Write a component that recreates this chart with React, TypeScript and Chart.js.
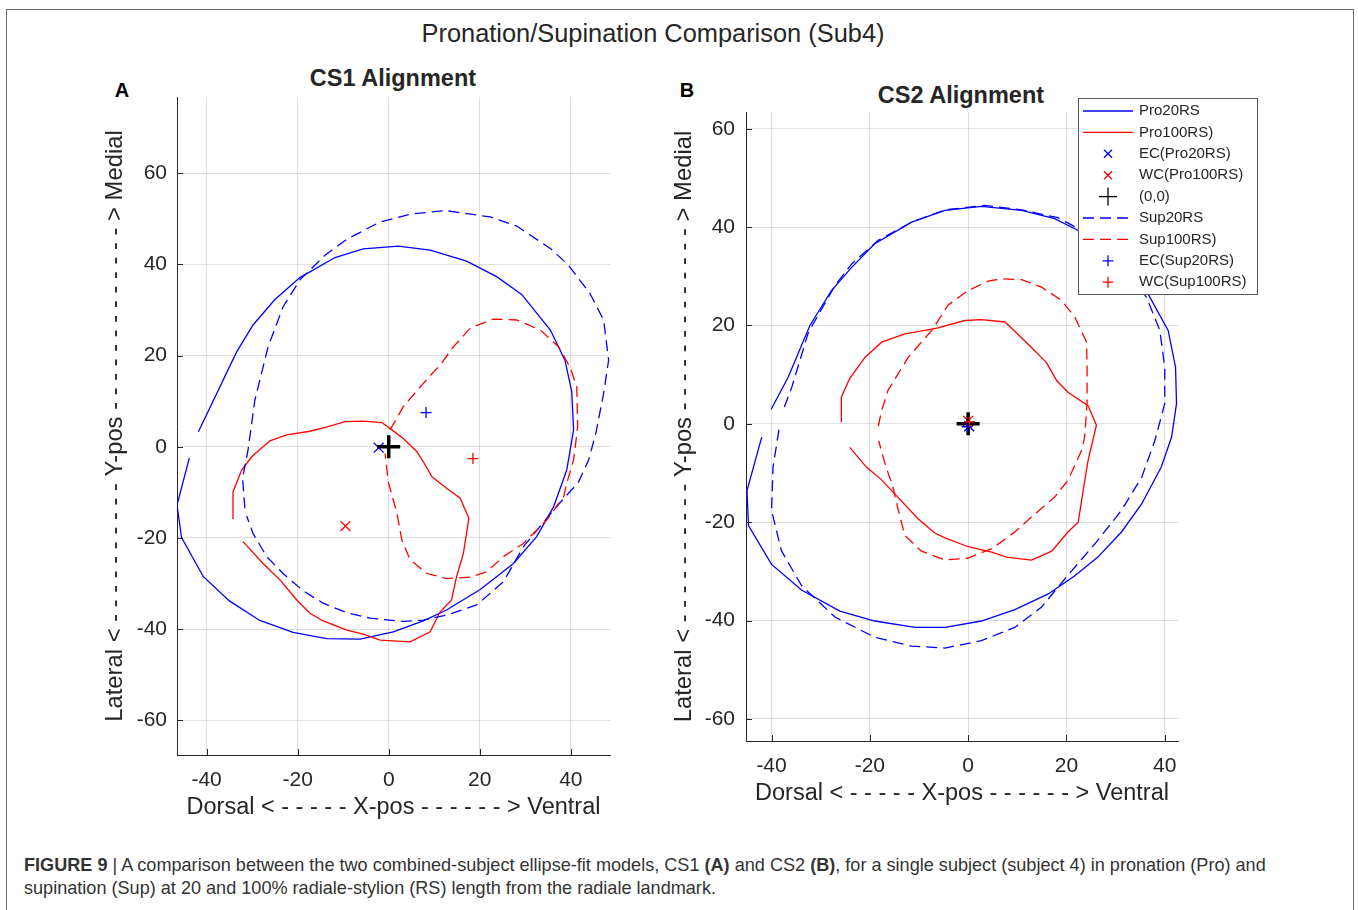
import React, { useEffect, useRef } from "react";
import { Chart, registerables } from "chart.js";

Chart.register(...registerables);

const FONT = '"Liberation Sans", Arial, Helvetica, sans-serif';
const INK = "#262626";
const GRID = "rgba(38,38,38,0.15)";
const BLUE = "rgb(0,0,255)";
const RED = "rgb(255,0,0)";

type Pt = [number, number];

// ---------- tick labels ----------
const xTickValues = [-40, -20, 0, 20, 40];
const yTickValues = [-60, -40, -20, 0, 20, 40, 60];

// ---------- series names (legend order) ----------
const seriesLabels = [
  "Pro20RS",
  "Pro100RS)",
  "EC(Pro20RS)",
  "WC(Pro100RS)",
  "(0,0)",
  "Sup20RS",
  "Sup100RS)",
  "EC(Sup20RS)",
  "WC(Sup100RS)",
];

const origin: Pt = [0, 0];

// ---------- panel A: CS1 alignment ----------
const cs1Pro20RS: Pt[] = [
  [-43.8, -2.5], [-46.5, -12.8], [-45.5, -19.9], [-40.7, -28.5], [-35.0, -33.8],
  [-28.3, -38.1], [-21.0, -40.7], [-13.6, -42.1], [-6.3, -42.2], [1.0, -40.6],
  [7.6, -38.2], [12.7, -35.8], [20.1, -31.3], [27.4, -25.6], [32.5, -19.7],
  [36.2, -13.2], [39.1, -5.1], [40.6, 3.7], [40.2, 12.1], [38.7, 19.0],
  [35.5, 25.6], [29.2, 33.4], [23.7, 37.3], [17.1, 40.7], [9.1, 43.1],
  [2.1, 44.0], [-5.6, 43.4], [-11.8, 41.5], [-19.5, 37.1], [-25.0, 32.3],
  [-29.8, 26.7], [-33.4, 20.8], [-41.8, 3.3],
];
const cs1Pro100RS: Pt[] = [
  [-34.0, -15.7], [-34.2, -9.9], [-32.3, -5.1], [-30.1, -2.2], [-26.1, 1.3],
  [-22.4, 2.6], [-17.3, 3.4], [-13.3, 4.4], [-9.6, 5.5], [-5.6, 5.6],
  [-1.5, 5.3], [0.7, 3.7], [3.2, 1.8], [6.2, -1.1], [7.6, -3.3],
  [9.5, -6.6], [12.7, -9.1], [15.7, -11.3], [17.6, -15.7], [16.4, -23.4],
  [14.9, -28.5], [13.8, -33.6], [11.3, -36.2], [9.1, -40.6], [4.7, -42.8],
  [-1.9, -42.4], [-5.6, -41.1], [-9.2, -40.2], [-14.4, -38.2], [-17.3, -36.5],
  [-20.2, -33.6], [-23.9, -29.2], [-27.6, -25.6], [-32.0, -20.8],
];
const cs1Sup20RS: Pt[] = [
  [-31.6, -13.5], [-32.1, -6.9], [-30.9, -0.7], [-29.4, 10.2], [-26.5, 21.9],
  [-23.2, 30.7], [-19.5, 36.6], [-14.0, 42.0], [-9.2, 45.5], [-1.9, 49.3],
  [4.7, 51.0], [12.4, 51.8], [22.3, 50.4], [28.1, 48.4], [35.5, 43.5],
  [39.5, 39.8], [44.2, 33.6], [47.2, 27.8], [48.3, 19.0], [47.2, 11.7],
  [45.5, 3.0], [43.9, -2.9], [41.7, -7.7], [36.2, -13.9], [29.6, -21.9],
  [25.2, -29.6], [19.3, -34.7], [12.7, -36.9], [7.6, -38.0], [3.2, -38.3],
  [-4.1, -37.6], [-9.2, -36.4], [-14.4, -34.3], [-18.8, -31.6], [-23.2, -27.8],
  [-26.8, -24.1], [-29.8, -19.0], [-31.2, -15.2],
];
const cs1Sup100RS: Pt[] = [
  [0.3, 3.7], [3.2, 8.8], [7.6, 13.9], [11.6, 18.3], [14.2, 21.9],
  [17.9, 26.0], [23.0, 28.0], [28.1, 27.8], [33.3, 25.6], [37.3, 21.9],
  [39.8, 17.5], [41.3, 13.2], [41.5, 4.4], [40.6, -2.9], [39.1, -8.0],
  [38.4, -11.0], [34.7, -16.1], [29.6, -21.2], [25.2, -24.1], [21.5, -27.4],
  [17.9, -28.6], [12.7, -28.9], [8.4, -27.8], [4.7, -24.8], [2.9, -20.5],
  [1.8, -14.6], [-0.1, -7.7], [-0.8, -1.5],
];
const cs1EcPro20RS: Pt = [-2.2, -0.2];
const cs1WcPro100RS: Pt = [-9.5, -17.4];
const cs1EcSup20RS: Pt = [8.2, 7.5];
const cs1WcSup100RS: Pt = [18.5, -2.6];

// ---------- panel B: CS2 alignment ----------
const cs2Pro20RS: Pt[] = [
  [-40.1, 2.9], [-36.6, 9.5], [-32.2, 20.0], [-27.8, 27.1], [-23.7, 31.8],
  [-19.0, 36.6], [-11.5, 41.0], [-4.7, 43.4], [2.7, 44.2], [10.9, 43.4],
  [17.6, 41.7], [22.4, 39.3], [27.5, 36.0], [32.5, 31.5], [36.6, 26.4],
  [40.7, 19.0], [42.2, 11.5], [42.4, 4.1], [41.4, -2.7], [39.3, -8.8],
  [35.3, -16.3], [31.2, -22.0], [26.4, -27.1], [21.7, -30.9], [16.3, -34.6],
  [9.5, -37.8], [2.7, -40.1], [-4.7, -41.4], [-10.8, -41.4], [-19.0, -40.1],
  [-26.1, -38.1], [-33.9, -33.8], [-40.0, -28.6], [-44.7, -20.7], [-45.0, -13.6],
  [-42.0, -2.7],
];
const cs2Pro100RS: Pt[] = [
  [-25.8, 0.3], [-25.8, 5.4], [-24.1, 9.2], [-21.0, 13.5], [-17.6, 16.6],
  [-12.9, 18.3], [-8.8, 19.0], [-6.1, 19.5], [-0.7, 21.0], [2.7, 21.2],
  [7.5, 20.7], [11.5, 16.9], [15.9, 12.5], [18.0, 8.8], [20.3, 6.4],
  [24.4, 3.7], [26.1, -0.3], [24.4, -7.5], [23.4, -13.6], [22.4, -20.0],
  [20.3, -22.0], [17.0, -25.9], [12.9, -27.7], [7.8, -27.1], [4.8, -26.1],
  [0.0, -25.0], [-4.7, -23.2], [-6.8, -22.2], [-10.2, -19.3], [-14.6, -14.6],
  [-17.6, -11.4], [-20.7, -8.8], [-24.1, -4.8],
];
const cs2Sup20RS: Pt[] = [
  [-37.4, 3.4], [-35.9, 7.4], [-32.5, 18.6], [-27.1, 28.1], [-23.7, 32.5],
  [-18.3, 37.3], [-11.5, 41.0], [-4.7, 43.5], [3.4, 44.4], [10.9, 43.5],
  [18.3, 41.9], [22.4, 39.7], [27.5, 36.0], [32.5, 31.0], [36.3, 25.7],
  [39.0, 19.0], [40.0, 11.5], [40.0, 4.1], [38.0, -3.4], [35.3, -10.9],
  [31.2, -17.6], [25.8, -24.4], [19.7, -31.5], [14.9, -37.3], [9.5, -41.4],
  [2.7, -44.1], [-4.7, -45.6], [-11.5, -45.2], [-19.0, -43.4], [-27.1, -39.3],
  [-33.9, -32.9], [-38.0, -25.8], [-40.0, -17.6], [-39.7, -8.8], [-38.3, 0.0],
];
const cs2Sup100RS: Pt[] = [
  [-18.3, -0.5], [-17.6, 2.7], [-16.3, 6.8], [-12.2, 13.5], [-7.4, 19.0],
  [-4.1, 24.1], [0.0, 27.1], [4.1, 29.0], [6.8, 29.5], [10.9, 29.3],
  [14.9, 27.8], [19.0, 25.1], [21.7, 21.7], [24.1, 16.6], [24.2, 11.5],
  [24.2, 4.1], [23.7, -2.7], [23.1, -5.4], [20.3, -11.5], [17.6, -14.9],
  [12.5, -19.3], [9.5, -22.0], [4.8, -25.4], [0.0, -27.3], [-4.7, -27.7],
  [-9.5, -25.9], [-12.9, -22.7], [-14.2, -17.6], [-15.3, -12.9], [-16.9, -8.1],
  [-18.2, -3.5],
];
const cs2EcPro20RS: Pt = [0.2, -0.5];
const cs2WcPro100RS: Pt = [0.0, 0.6];
const cs2EcSup20RS: Pt = [-0.2, -0.6];
const cs2WcSup100RS: Pt = [0.3, 0.4];

const xAxisTitle = "Dorsal < - - - - - X-pos - - - - - - > Ventral";
const yAxisTitle =
  "Lateral < - - - - - - - - - - Y-pos - - - - - - - - - - - - - > Medial";

type PanelSeries = {
  pro20: Pt[];
  pro100: Pt[];
  ecPro20: Pt;
  wcPro100: Pt;
  sup20: Pt[];
  sup100: Pt[];
  ecSup20: Pt;
  wcSup100: Pt;
};

type Geometry = {
  xRange: [number, number];
  yRange: [number, number];
  padding: { top: number; right: number; left: number; bottom: number };
  yAxisWidth: number;
  xAxisHeight: number;
  xTickPad: number;
  yTickPad: number;
  xTitlePad: number;
  yTitlePad: number;
  legend?: { x: number; y: number; w: number; h: number; row0: number; step: number };
};

const toXY = (pts: Pt[]) => pts.map(([x, y]) => ({ x, y }));

function lineSet(label: string, pts: Pt[], color: string, dashed: boolean) {
  return {
    label,
    data: toXY(pts),
    showLine: true,
    borderColor: color,
    backgroundColor: color,
    borderWidth: 1.3,
    borderDash: dashed ? [11, 6] : [],
    pointRadius: 0,
    pointHoverRadius: 0,
    tension: 0,
    fill: false,
  };
}

function markerSet(label: string, pt: Pt, color: string, style: string, r: number, w: number) {
  return {
    label,
    data: toXY([pt]),
    showLine: false,
    pointStyle: style,
    pointRadius: r,
    pointHoverRadius: r,
    pointBorderWidth: w,
    pointBorderColor: color,
    pointBackgroundColor: color,
    borderColor: color,
    backgroundColor: color,
  };
}

function buildDatasets(s: PanelSeries) {
  const list: any[] = [
    lineSet(seriesLabels[0], s.pro20, BLUE, false),
    lineSet(seriesLabels[1], s.pro100, RED, false),
    markerSet(seriesLabels[2], s.ecPro20, BLUE, "crossRot", 7, 1.3),
    markerSet(seriesLabels[3], s.wcPro100, RED, "crossRot", 7, 1.3),
    markerSet(seriesLabels[4], origin, "#000", "cross", 11.5, 3.5),
    lineSet(seriesLabels[5], s.sup20, BLUE, true),
    lineSet(seriesLabels[6], s.sup100, RED, true),
    markerSet(seriesLabels[7], s.ecSup20, BLUE, "cross", 5.5, 1.3),
    markerSet(seriesLabels[8], s.wcSup100, RED, "cross", 5.5, 1.3),
  ];
  // later series are painted above earlier ones
  return list.map((d, i) => ({ ...d, order: -i }));
}

// axis ticks pointing into the plot, plus the boxed legend
const panelDecor = {
  id: "panelDecor",
  afterDraw(chart: any, _args: any, opts: any) {
    const ctx = chart.ctx as CanvasRenderingContext2D;
    const { left, bottom } = chart.chartArea;
    const xs = chart.scales.x;
    const ys = chart.scales.y;
    ctx.save();
    ctx.strokeStyle = INK;
    ctx.lineWidth = 1;
    ctx.beginPath();
    xTickValues.forEach((v) => {
      const px = Math.round(xs.getPixelForValue(v)) + 0.5;
      ctx.moveTo(px, bottom);
      ctx.lineTo(px, bottom - 6);
    });
    yTickValues.forEach((v) => {
      const py = Math.round(ys.getPixelForValue(v)) + 0.5;
      ctx.moveTo(left, py);
      ctx.lineTo(left + 6, py);
    });
    ctx.stroke();
    ctx.restore();

    const lg = opts && opts.box;
    if (!lg) return;
    ctx.save();
    ctx.fillStyle = "#fff";
    ctx.fillRect(lg.x, lg.y, lg.w, lg.h);
    ctx.strokeStyle = "#5a5a5a";
    ctx.lineWidth = 1;
    ctx.strokeRect(lg.x + 0.5, lg.y + 0.5, lg.w, lg.h);
    ctx.font = `15px ${FONT}`;
    ctx.textBaseline = "middle";
    ctx.textAlign = "left";
    chart.data.datasets.forEach((ds: any, i: number) => {
      const cy = lg.y + lg.row0 + i * lg.step;
      const x0 = lg.x + 5;
      const x1 = lg.x + 55;
      const cx = (x0 + x1) / 2;
      ctx.save();
      if (ds.showLine) {
        ctx.strokeStyle = ds.borderColor;
        ctx.lineWidth = 1.3;
        ctx.setLineDash(ds.borderDash || []);
        ctx.beginPath();
        ctx.moveTo(x0, cy);
        ctx.lineTo(x1, cy);
        ctx.stroke();
      } else {
        ctx.strokeStyle = ds.pointBorderColor;
        ctx.lineWidth = 1.3;
        ctx.beginPath();
        if (ds.pointStyle === "crossRot") {
          const h = 4;
          ctx.moveTo(cx - h, cy - h);
          ctx.lineTo(cx + h, cy + h);
          ctx.moveTo(cx + h, cy - h);
          ctx.lineTo(cx - h, cy + h);
        } else {
          const h = ds.label === "(0,0)" ? 9 : 5.5;
          ctx.moveTo(cx - h, cy);
          ctx.lineTo(cx + h, cy);
          ctx.moveTo(cx, cy - h);
          ctx.lineTo(cx, cy + h);
        }
        ctx.stroke();
      }
      ctx.restore();
      ctx.fillStyle = INK;
      ctx.fillText(ds.label, lg.x + 61, cy);
    });
    ctx.restore();
  },
};

function makeOptions(g: Geometry) {
  return {
    responsive: false,
    maintainAspectRatio: false,
    animation: false,
    events: [],
    layout: { padding: g.padding },
    plugins: {
      legend: { display: false },
      tooltip: { enabled: false },
      title: { display: false },
      panelDecor: { box: g.legend || null },
    },
    scales: {
      x: {
        type: "linear",
        position: "bottom",
        min: g.xRange[0],
        max: g.xRange[1],
        afterBuildTicks: (s: any) => {
          s.ticks = xTickValues.map((v) => ({ value: v }));
        },
        afterFit: (s: any) => {
          s.height = g.xAxisHeight;
        },
        grid: { color: GRID, lineWidth: 1, drawTicks: false },
        border: { display: true, color: INK, width: 1 },
        ticks: {
          color: INK,
          font: { size: 21, family: FONT },
          padding: g.xTickPad,
          maxRotation: 0,
          autoSkip: false,
          callback: (v: number) => String(v),
        },
        title: {
          display: true,
          text: xAxisTitle,
          color: INK,
          font: { size: 23.5, family: FONT },
          padding: { top: 0, bottom: g.xTitlePad },
        },
      },
      y: {
        type: "linear",
        position: "left",
        min: g.yRange[0],
        max: g.yRange[1],
        afterBuildTicks: (s: any) => {
          s.ticks = yTickValues.map((v) => ({ value: v }));
        },
        afterFit: (s: any) => {
          s.width = g.yAxisWidth;
        },
        grid: { color: GRID, lineWidth: 1, drawTicks: false },
        border: { display: true, color: INK, width: 1 },
        ticks: {
          color: INK,
          font: { size: 21, family: FONT },
          padding: g.yTickPad,
          autoSkip: false,
          callback: (v: number) => String(v),
        },
        title: {
          display: true,
          text: yAxisTitle,
          color: INK,
          font: { size: 23.8, family: FONT },
          padding: { top: g.yTitlePad, bottom: 0 },
        },
      },
    },
  };
}

function Panel(props: {
  series: PanelSeries;
  geom: Geometry;
  left: number;
  top: number;
  width: number;
  height: number;
}) {
  const ref = useRef<HTMLCanvasElement | null>(null);
  useEffect(() => {
    if (!ref.current) return;
    const chart = new Chart(ref.current, {
      type: "scatter",
      data: { datasets: buildDatasets(props.series) as any },
      options: makeOptions(props.geom) as any,
      plugins: [panelDecor as any],
    });
    return () => chart.destroy();
  }, []);
  return (
    <canvas
      ref={ref}
      width={props.width}
      height={props.height}
      style={{
        position: "absolute",
        left: props.left,
        top: props.top,
        width: props.width,
        height: props.height,
      }}
    />
  );
}

const panelA: PanelSeries = {
  pro20: cs1Pro20RS,
  pro100: cs1Pro100RS,
  ecPro20: cs1EcPro20RS,
  wcPro100: cs1WcPro100RS,
  sup20: cs1Sup20RS,
  sup100: cs1Sup100RS,
  ecSup20: cs1EcSup20RS,
  wcSup100: cs1WcSup100RS,
};

const panelB: PanelSeries = {
  pro20: cs2Pro20RS,
  pro100: cs2Pro100RS,
  ecPro20: cs2EcPro20RS,
  wcPro100: cs2WcPro100RS,
  sup20: cs2Sup20RS,
  sup100: cs2Sup100RS,
  ecSup20: cs2EcSup20RS,
  wcSup100: cs2WcSup100RS,
};

const geomA: Geometry = {
  xRange: [-46.5, 48.6],
  yRange: [-67.6, 76.7],
  padding: { top: 37, right: 20, left: 0, bottom: 0 },
  yAxisWidth: 97,
  xAxisHeight: 95,
  xTickPad: 13,
  yTickPad: 10,
  xTitlePad: 28,
  yTitlePad: 21.5,
};

const geomB: Geometry = {
  xRange: [-45.2, 42.7],
  yRange: [-64.5, 63.4],
  padding: { top: 42, right: 92, left: 0, bottom: 0 },
  yAxisWidth: 96,
  xAxisHeight: 109,
  xTickPad: 12.5,
  yTickPad: 11,
  xTitlePad: 42,
  yTitlePad: 19.7,
  legend: { x: 428, y: 28, w: 179, h: 196, row0: 13, step: 21.4 },
};

export default function App() {
  const text = { position: "absolute" as const, color: INK, whiteSpace: "nowrap" as const };
  return (
    <div
      style={{
        position: "absolute",
        left: 0,
        top: 0,
        width: 1358,
        height: 910,
        overflow: "hidden",
        background: "#fff",
        fontFamily: FONT,
      }}
    >
      <div
        style={{
          position: "absolute",
          left: 6,
          top: 9,
          width: 1348,
          height: 920,
          border: "1.5px solid #6e6e6e",
          boxSizing: "border-box",
        }}
      />
      <div style={{ ...text, left: 253, width: 800, top: 18, textAlign: "center", fontSize: 25.4, lineHeight: "30px" }}>
        Pronation/Supination Comparison (Sub4)
      </div>
      <div style={{ ...text, left: 193, width: 400, top: 64, textAlign: "center", fontSize: 23.5, fontWeight: 700, lineHeight: "28px" }}>
        CS1 Alignment
      </div>
      <div style={{ ...text, left: 761, width: 400, top: 81, textAlign: "center", fontSize: 23.5, fontWeight: 700, lineHeight: "28px" }}>
        CS2 Alignment
      </div>
      <div style={{ ...text, left: 102, width: 40, top: 78, textAlign: "center", fontSize: 20, fontWeight: 700, lineHeight: "24px", color: "#000" }}>
        A
      </div>
      <div style={{ ...text, left: 667, width: 40, top: 78, textAlign: "center", fontSize: 20, fontWeight: 700, lineHeight: "24px", color: "#000" }}>
        B
      </div>

      <Panel series={panelA} geom={geomA} left={80} top={60} width={550} height={790} />
      <Panel series={panelB} geom={geomB} left={650} top={70} width={620} height={780} />

      <div style={{ ...text, left: 24, top: 854, fontSize: 18.1, lineHeight: "23px", color: "#333" }}>
        <b>FIGURE 9</b> | A comparison between the two combined-subject ellipse-fit models, CS1 <b>(A)</b> and CS2{" "}
        <b>(B)</b>, for a single subject (subject 4) in pronation (Pro) and
        <br />
        supination (Sup) at 20 and 100% radiale-stylion (RS) length from the radiale landmark.
      </div>
    </div>
  );
}
